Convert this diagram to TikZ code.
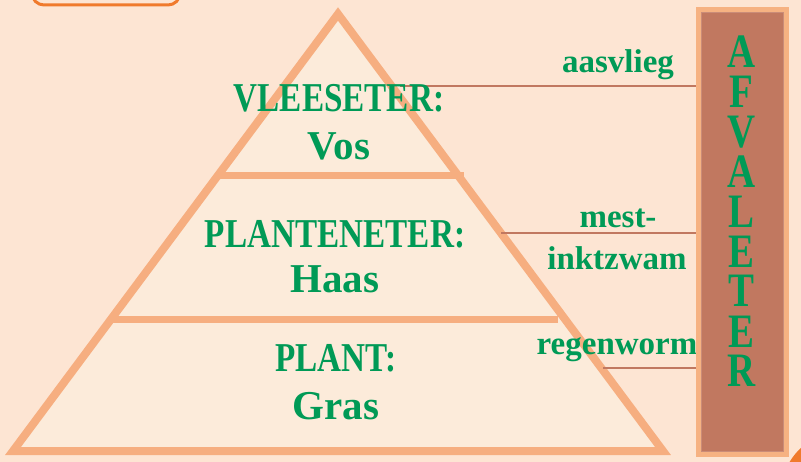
\documentclass[tikz,border=0pt]{standalone}
\usepackage{fontspec}
\setmainfont{Liberation Serif}
\newfontfamily\capsfont[FakeStretch=0.81]{Liberation Serif}

\definecolor{bgpeach}{HTML}{FDE5D3}
\definecolor{innerpeach}{HTML}{FCEBDA}
\definecolor{pyramidline}{HTML}{F6AE80}
\definecolor{labelgreen}{HTML}{009A56}
\definecolor{barbrown}{HTML}{C17860}
\definecolor{barrim}{HTML}{F6B282}
\definecolor{accentorange}{HTML}{F07A2C}

\tikzset{
  tiercaps/.style={font=\capsfont\bfseries\fontsize{41}{48}\selectfont, text=labelgreen, anchor=base, inner sep=0pt},
  tiername/.style={font=\bfseries\fontsize{41}{48}\selectfont, text=labelgreen, anchor=base, inner sep=0pt},
  decomposer/.style={font=\bfseries\fontsize{33}{38}\selectfont, text=labelgreen, anchor=base, inner sep=0pt},
  barletters/.style={font=\capsfont\bfseries\fontsize{48}{40}\selectfont, text=labelgreen, align=center, anchor=base, inner sep=0pt},
  link/.style={barbrown, line width=2.5pt},
  tierline/.style={pyramidline, line width=7pt}
}

\begin{document}
\begin{tikzpicture}[x=1pt, y=-1pt]
    \useasboundingbox (0,0) rectangle (801,462);
    \clip (0,0) rectangle (801,462);

    % Background
    \fill[bgpeach] (0,0) rectangle (801,462);
    \draw[accentorange, line width=3pt, rounded corners=12pt] (32,-30) rectangle (180,5);
    \fill[accentorange] (845,495) circle (64.5);

    % Pyramid
    \fill[innerpeach] (338,14) -- (663,451) -- (13,451) -- cycle;
    \draw[tierline] (218,176) -- (464,176);
    \draw[tierline] (110,320) -- (558,320);
    \draw[pyramidline, line width=8pt, line join=miter] (338,14) -- (663,451) -- (13,451) -- cycle;

    % Decomposer links
    \coordinate (fly) at (400,86);
    \coordinate (ink) at (501,233);
    \coordinate (worm) at (603,368);
    \node[inner sep=0pt, minimum width=88pt, minimum height=445pt] (bar) at (742.5,232) {};
    \draw[link] (fly) -- (fly -| bar.west);
    \draw[link] (ink) -- (ink -| bar.west);
    \draw[link] (worm) -- (worm -| bar.west);

    % Tiers
    \node[tiercaps] (carn) at (339,112) {VLEESETER:};
    \node[tiername] (carnname) at (339,160) {Vos};
    \node[tiercaps] (herb) at (335,248) {PLANTENETER:};
    \node[tiername] (herbname) at (335,293) {Haas};
    \node[tiercaps] (plant) at (336,372) {PLANT:};
    \node[tiername] (plantname) at (336,420) {Gras};

    % Decomposers
    \node[decomposer] (aasvlieg) at (618,73) {aasvlieg};
    \node[decomposer] (mest) at (618,228) {mest-};
    \node[decomposer] (inktzwam) at (617,270) {inktzwam};
    \node[decomposer] (regenworm) at (617,355) {regenworm};

    % Afvaleter bar (last line on the base anchor)
    \draw[barrim, fill=barbrown, line width=5pt] (bar.north west) rectangle (bar.south east);
    \draw[barbrown!85!white, line width=0.8pt] ([shift={(3,3)}]bar.north west) rectangle ([shift={(-3,-3)}]bar.south east);
    \node[barletters] (afvaleter) at (741.5,387) {A\\F\\V\\A\\L\\E\\T\\E\\R};

\end{tikzpicture}
\end{document}
